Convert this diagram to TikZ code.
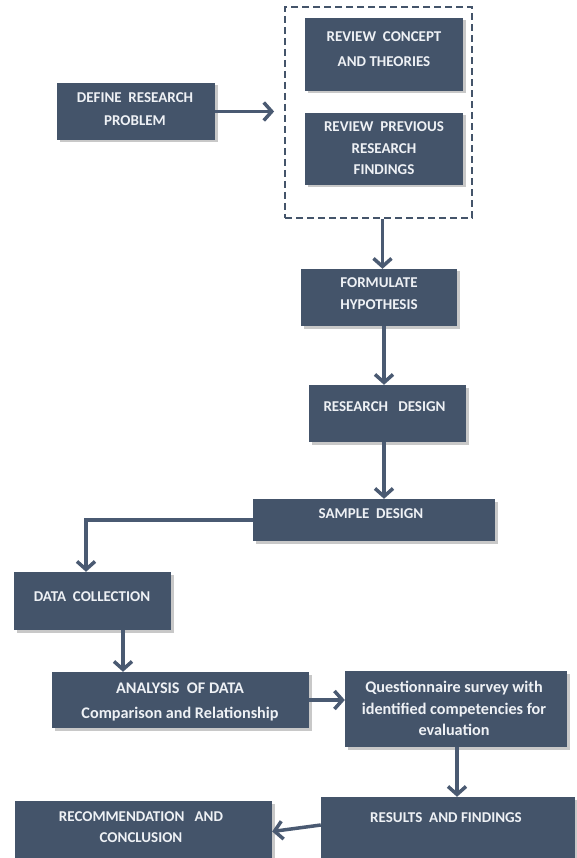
\documentclass[tikz,border=0pt]{standalone}
\usepackage{fontspec}
\setmainfont{Carlito}
\usetikzlibrary{arrows.meta,shadows,calc}
\definecolor{boxc}{HTML}{44546A}
\definecolor{arrc}{HTML}{4A5A72}
\definecolor{txtc}{HTML}{EEF1F5}
\begin{document}
\begin{tikzpicture}[x=1pt,y=-1pt,
  box/.style={fill=boxc, inner sep=0pt, drop shadow={shadow xshift=2.5pt,shadow yshift=-2.5pt,opacity=0.3,fill=black!70}},
  lbl/.style={text=txtc, font=\fontsize{15}{#1}\selectfont\bfseries, align=center, inner sep=0pt},
  lbl/.default=22,
  lbll/.style={text=txtc, font=\fontsize{16.2}{#1}\selectfont\bfseries, align=center, inner sep=0pt},
  arr/.style={draw=arrc, line width=3.5pt, -{Straight Barb[length=8pt,width=18pt]}},
  grpbox/.style={draw=boxc, line width=1.8pt, dash pattern=on 7pt off 4pt, inner sep=0pt}]
\fill[white] (0,0) rectangle (576,858);
\useasboundingbox (0,0) rectangle (576,858);

% group
\node[grpbox, minimum width=187, minimum height=211] (grp) at (378.5,112.5) {};

% boxes
\node[box, minimum width=158, minimum height=57] (def) at (136,111.5) {};
\node[box, minimum width=158, minimum height=73] (rc) at (384,54.5) {};
\node[box, minimum width=158, minimum height=72] (rp) at (384,149) {};
\node[box, minimum width=156, minimum height=57] (form) at (379,297.5) {};
\node[box, minimum width=157, minimum height=57] (rd) at (387.5,413.5) {};
\node[box, minimum width=242, minimum height=42] (sd) at (374,520) {};
\node[box, minimum width=157, minimum height=58] (dc) at (92.5,601) {};
\node[box, minimum width=257, minimum height=56] (an) at (180.5,700) {};
\node[box, minimum width=222, minimum height=76] (qs) at (456,709) {};
\node[box, minimum width=254, minimum height=65] (res) at (448,829.5) {};
\node[box, minimum width=257, minimum height=61] (rec) at (143.5,831.5) {};

% texts
\node[lbl=23] (tdef) at (135,109.5) {DEFINE\ \ RESEARCH\\PROBLEM};
\node[lbl=25] (trc) at (384,49.5) {REVIEW\ \ CONCEPT\\AND THEORIES};
\node[lbl=21.5] (trp) at (384,148.5) {REVIEW\ \ PREVIOUS\\RESEARCH\\FINDINGS};
\node[lbl=22] (tform) at (379,294) {FORMULATE\\HYPOTHESIS};
\node[lbl] (trd) at (384.5,407) {RESEARCH\ \ \ DESIGN};
\node[lbl] (tsd) at (371,514) {SAMPLE\ \ DESIGN};
\node[lbl] (tdc) at (92,597) {DATA\ \ COLLECTION};
\node[lbll=25] (tan) at (180,701.5) {ANALYSIS\ \ OF DATA\\Comparison and Relationship};
\node[lbll=21.5] (tqs) at (454,708.5) {Questionnaire survey with\\identified competencies for\\evaluation};
\node[lbl] (tres) at (446,818) {RESULTS\ \ AND FINDINGS};
\node[lbl=21] (trec) at (141,827.5) {RECOMMENDATION\ \ \ AND\\CONCLUSION};

% connectors
\draw[arr] (def.east) -- ($(grp.west |- def.east)+(-10,0)$);
\draw[arr] ([xshift=4pt]grp.south) -- ([xshift=4pt]grp.south |- form.north);
\draw[arr] ([xshift=5pt]form.south) -- ([xshift=5pt]form.south |- rd.north);
\draw[arr] ([xshift=-3.5pt]rd.south) -- ([xshift=-3.5pt]rd.south |- sd.north);
\draw[arr] (sd.west) -- ([xshift=-6.5pt]dc.north |- sd.west) -- ([xshift=-6.5pt]dc.north);
\draw[arr] ([xshift=30.5pt]dc.south) -- ([xshift=30.5pt]dc.south |- an.north);
\draw[arr] (an.east) -- (qs.west |- an.east);
\draw[arr] ([xshift=1pt]qs.south) -- ([xshift=1pt]qs.south |- res.north);
\draw[arr] ([yshift=4.5pt]res.west) -- (rec.east);
\end{tikzpicture}
\end{document}
